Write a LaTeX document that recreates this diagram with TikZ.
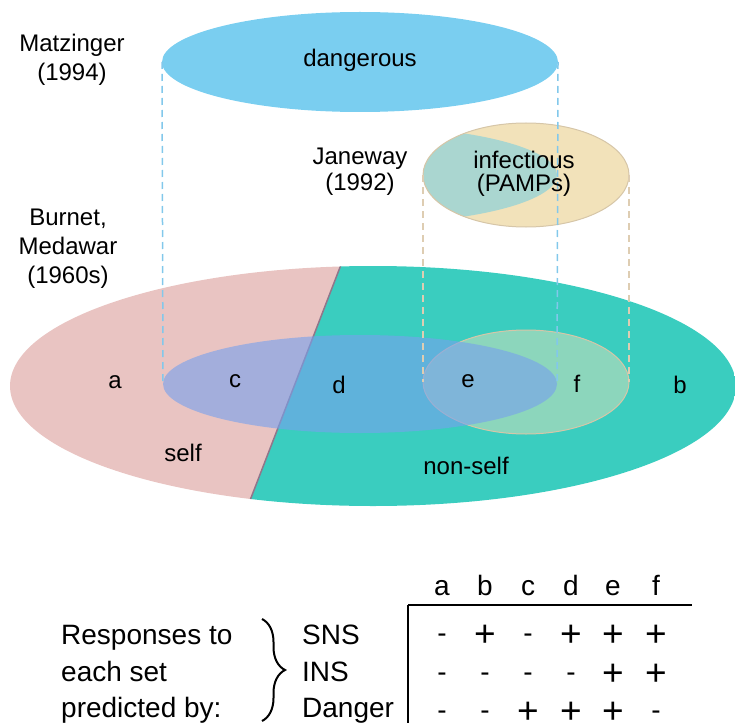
\documentclass[tikz,border=0pt]{standalone}
\usepackage{fontspec}
\setmainfont{Liberation Sans}
\usetikzlibrary{decorations.pathreplacing}
\definecolor{dangerblue}{RGB}{122,206,240}
\definecolor{overlapblue}{RGB}{119,161,237}
\definecolor{selfpink}{RGB}{233,196,194}
\definecolor{nonselfteal}{RGB}{58,205,191}
\definecolor{pampbeige}{RGB}{242,226,186}
\definecolor{pampedge}{RGB}{214,198,168}
\definecolor{lensteal}{RGB}{170,214,208}
\definecolor{divline}{RGB}{145,118,138}
\definecolor{guideblue}{RGB}{130,200,235}
\definecolor{guidebeige}{RGB}{222,205,178}
\tikzset{
    every node/.style={inner sep=0pt, font=\fontsize{24}{29}\selectfont}
}
\tikzset{
    tabtext/.style={anchor=base, font=\fontsize{28}{34}\selectfont},
    pluscell/.style={anchor=base, font=\fontsize{37}{40}\selectfont},
    guide/.style={dash pattern=on 7pt off 5pt, line width=1.5pt},
    rule/.style={line width=2.5pt}
}

\begin{document}
\begin{tikzpicture}[x=1pt, y=-1pt]
  \useasboundingbox (0,0) rectangle (735,722);
  \clip (0,0) rectangle (735,722);

  \coordinate (ds) at (366,200);
  \coordinate (de) at (227,560);
  \coordinate (dl) at (162,62);
  \coordinate (dr) at (558,62);
  \coordinate (bl) at (163,384);
  \coordinate (br) at (557,384);
  \coordinate (il) at (423,175);
  \coordinate (ir) at (629,175);
  \coordinate (jl) at (423,382);
  \coordinate (jr) at (629,382);

  \begin{scope}
    \clip (373,386) ellipse [x radius=363, y radius=120];
    \fill[selfpink] (0,200) -- (ds) -- (de) -- (0,560) -- cycle;
    \fill[nonselfteal] (ds) -- (740,200) -- (740,560) -- (de) -- cycle;
    \draw[divline, line width=1.5pt] (ds) -- (de);
  \end{scope}

  \fill[dangerblue] (360,62) ellipse [x radius=198, y radius=50];
  \begin{scope}
    \clip (526,175) ellipse [x radius=103, y radius=52];
    \fill[pampbeige] (420,120) rectangle (632,230);
    \fill[lensteal] (360,175) ellipse [x radius=197, y radius=49];
  \end{scope}
  \draw[pampedge, line width=1pt] (526,175) ellipse [x radius=103, y radius=52];

  \filldraw[fill=pampbeige, fill opacity=.45, draw=pampedge, line width=1pt]
    (526,382) ellipse [x radius=103, y radius=52];
  \fill[overlapblue, fill opacity=.61] (360,384) ellipse [x radius=197, y radius=49];

  \draw[guide, guideblue] (dl) -- (bl);
  \draw[guide, guideblue] (dr) -- (br);
  \draw[guide, guidebeige] (il) -- (jl);
  \draw[guide, guidebeige] (ir) -- (jr);

  \node (matz) [align=center] at (72,60) {Matzinger\\(1994)};
  \node (jane) [align=center, font=\fontsize{24}{26}\selectfont] at (360,172) {Janeway\\(1992)};
  \node (burn) [align=center] at (68,249) {Burnet,\\Medawar\\(1960s)};
  \node (dang) at (360,60) {dangerous};
  \node (infc) [align=center, font=\fontsize{24}{23}\selectfont] at (524,174) {infectious\\(PAMPs)};

  \node (a) at (115,382) {a};
  \node (c) at (235,381) {c};
  \node (d) at (339,385) {d};
  \node (e) at (468,381) {e};
  \node (f) at (577,384) {f};
  \node (b) at (680,385) {b};
  \node (self) at (183,453) {self};
  \node (nonself) at (466,466) {non-self};

  \node (ha) [tabtext] at (442,595) {a};
  \node (hb) [tabtext] at (485,595) {b};
  \node (hc) [tabtext] at (528,595) {c};
  \node (hd) [tabtext] at (571,595) {d};
  \node (he) [tabtext] at (613,595) {e};
  \node (hf) [tabtext] at (656,595) {f};

  \coordinate (tl) at (408,605);
  \coordinate (tr) at (692,605);
  \coordinate (tb) at (408,730);
  \draw[rule] (tl) -- (tr);
  \draw[rule] (tl) -- (tb);

  \node (resp1) [tabtext, anchor=base west] at (61,644) {Responses to};
  \node (resp2) [tabtext, anchor=base west] at (61,681) {each set};
  \node (resp3) [tabtext, anchor=base west] at (61,717) {predicted by:};

  \coordinate (bt) at (262,619);
  \coordinate (bb) at (262,721);
  \draw[decorate, decoration={brace, amplitude=23pt}, line width=2pt] (bt) -- (bb);

  \node (sns) [tabtext, anchor=base west] at (302,644) {SNS};
  \node (ins) [tabtext, anchor=base west] at (302,681) {INS};
  \node (dgr) [tabtext, anchor=base west] at (302,717) {Danger};

  \node (sa) [tabtext] at (442,642) {-};
  \node (sb) [pluscell] at (485,646) {+};
  \node (sc) [tabtext] at (528,642) {-};
  \node (sd) [pluscell] at (571,646) {+};
  \node (se) [pluscell] at (613,646) {+};
  \node (sf) [pluscell] at (656,646) {+};

  \node (ia) [tabtext] at (442,681) {-};
  \node (ib) [tabtext] at (485,681) {-};
  \node (ic) [tabtext] at (528,681) {-};
  \node (id) [tabtext] at (571,681) {-};
  \node (ie) [pluscell] at (613,685) {+};
  \node (if) [pluscell] at (656,685) {+};

  \node (ga) [tabtext] at (442,719) {-};
  \node (gb) [tabtext] at (485,719) {-};
  \node (gc) [pluscell] at (528,723) {+};
  \node (gd) [pluscell] at (571,723) {+};
  \node (ge) [pluscell] at (613,723) {+};
  \node (gf) [tabtext] at (656,719) {-};
\end{tikzpicture}
\end{document}
